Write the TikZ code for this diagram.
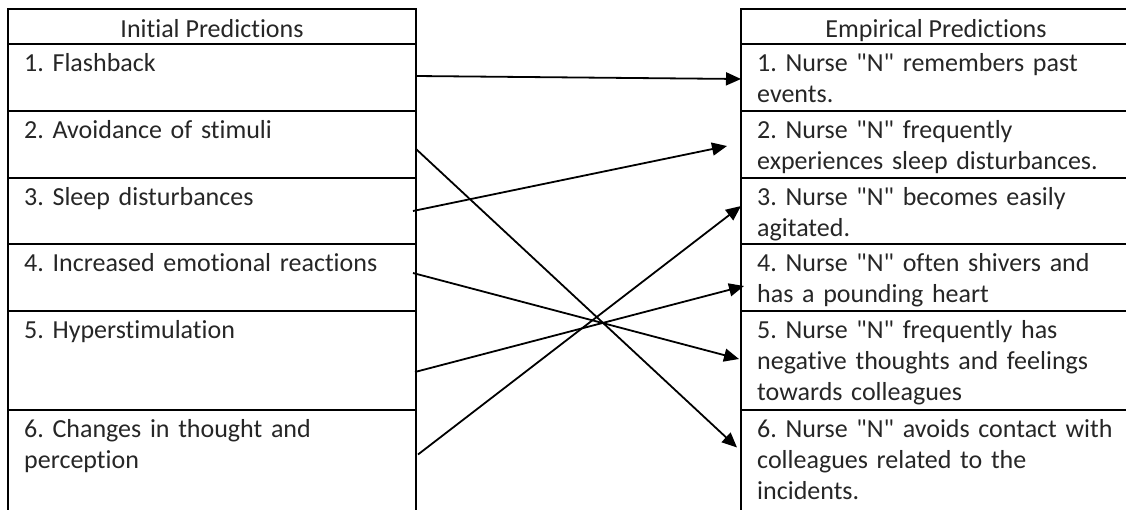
\documentclass[tikz,border=0pt]{standalone}
\usepackage{fontspec}
\newfontfamily\bodyfont{Carlito}[Ligatures=NoCommon]
\usetikzlibrary{arrows.meta}
\begin{document}
\frenchspacing
\begin{tikzpicture}[x=1pt,y=-1pt,
  cell/.style={draw, line width=2pt, rectangle, inner sep=0pt, outer sep=0pt, anchor=north west},
  txt/.style={anchor=base west, inner sep=0pt, text width=420pt, align=left, font=\bodyfont\fontsize{26}{31}\selectfont\frenchspacing, text=black!85},
  head/.style={anchor=base, inner sep=0pt, font=\bodyfont\fontsize{26}{31}\selectfont, text=black!85},
  arr/.style={line width=1.8pt, -{Triangle[length=15pt,width=13pt]}}]
\clip (0,0) rectangle (1126,509);
% left table
\node[cell, minimum width=408pt, minimum height=35pt]  (LH) at (8,9) {};
\node[cell, minimum width=408pt, minimum height=67pt]  (L1) at (8,44) {};
\node[cell, minimum width=408pt, minimum height=67pt]  (L2) at (8,111) {};
\node[cell, minimum width=408pt, minimum height=66pt]  (L3) at (8,178) {};
\node[cell, minimum width=408pt, minimum height=67pt]  (L4) at (8,244) {};
\node[cell, minimum width=408pt, minimum height=99pt]  (L5) at (8,311) {};
\node[cell, minimum width=408pt, minimum height=115pt] (L6) at (8,410) {};
% right table
\node[cell, minimum width=390pt, minimum height=35pt]  (RH) at (741,9) {};
\node[cell, minimum width=390pt, minimum height=67pt]  (R1) at (741,44) {};
\node[cell, minimum width=390pt, minimum height=67pt]  (R2) at (741,111) {};
\node[cell, minimum width=390pt, minimum height=66pt]  (R3) at (741,178) {};
\node[cell, minimum width=390pt, minimum height=67pt]  (R4) at (741,244) {};
\node[cell, minimum width=390pt, minimum height=99pt]  (R5) at (741,311) {};
\node[cell, minimum width=390pt, minimum height=115pt] (R6) at (741,410) {};
% headers
\node[head] (LHt) at ([yshift=7pt]LH.south) {Initial Predictions};
\node[head] (RHt) at ([yshift=7pt]RH.south) {Empirical Predictions};
% left texts
\node[txt] (L1t) at ([xshift=16pt,yshift=-27.5pt]L1.north west) {1. Flashback};
\node[txt] (L2t) at ([xshift=16pt,yshift=-27.5pt]L2.north west) {2. Avoidance of stimuli};
\node[txt] (L3t) at ([xshift=16pt,yshift=-27.5pt]L3.north west) {3. Sleep disturbances};
\node[txt] (L4t) at ([xshift=16pt,yshift=-27.5pt]L4.north west) {4. Increased emotional reactions};
\node[txt] (L5t) at ([xshift=16pt,yshift=-27.5pt]L5.north west) {5. Hyperstimulation};
\node[txt] (L6t) at ([xshift=16pt,yshift=-27.5pt]L6.north west) {6. Changes in thought and\\perception};
% right texts
\node[txt] (R1t) at ([xshift=16pt,yshift=-27.5pt]R1.north west) {1. Nurse "N" remembers past\\events.};
\node[txt] (R2t) at ([xshift=16pt,yshift=-27.5pt]R2.north west) {2. Nurse "N" frequently\\experiences sleep disturbances.};
\node[txt] (R3t) at ([xshift=16pt,yshift=-27.5pt]R3.north west) {3. Nurse "N" becomes easily\\agitated.};
\node[txt] (R4t) at ([xshift=16pt,yshift=-27.5pt]R4.north west) {4. Nurse "N" often shivers and\\has a pounding heart};
\node[txt] (R5t) at ([xshift=16pt,yshift=-27.5pt]R5.north west) {5. Nurse "N" frequently has\\negative thoughts and feelings\\towards colleagues};
\node[txt] (R6t) at ([xshift=16pt,yshift=-27.5pt]R6.north west) {6. Nurse "N" avoids contact with\\colleagues related to the\\incidents.};
% connectors
\draw[arr] ([yshift=1.5pt]L1.east) -- ([yshift=-1.5pt]R1.west);
\draw[arr] ([yshift=-4.5pt]L2.east) -- ([xshift=-4pt,yshift=20pt]R6.west);
\draw[arr] ([xshift=-3pt]L3.east) -- ([xshift=-14pt,yshift=-1.5pt]R2.west);
\draw[arr] ([xshift=-3pt,yshift=4.5pt]L4.east) -- ([xshift=-2pt,yshift=1.5pt]R5.west);
\draw[arr] ([xshift=-1pt,yshift=-11.5pt]L5.east) -- ([xshift=3pt,yshift=-8.5pt]R4.west);
\draw[arr] ([xshift=2pt,yshift=13pt]L6.east) -- ([yshift=5pt]R3.west);
\end{tikzpicture}
\end{document}
